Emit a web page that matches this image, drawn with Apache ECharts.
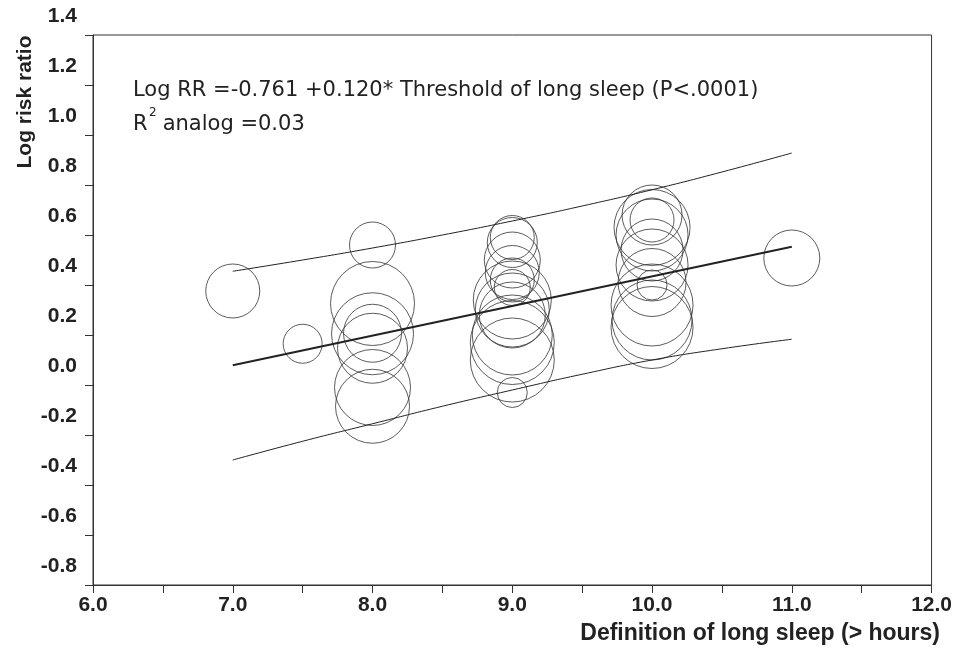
<!DOCTYPE html>
<html>
<head>
<meta charset="utf-8">
<script src="https://cdn.jsdelivr.net/npm/echarts@6/dist/echarts.min.js"></script>
<style>
  html, body { margin: 0; padding: 0; background: #fff; }
  .chart { width: 955px; height: 648px; }
</style>
</head>
<body>
<div class="chart"></div>
<script>
// 各研究：长睡眠阈值（小时）、Log RR、气泡大小（相对权重）
var studyHours = [7.0, 7.5,
  8.0, 8.0, 8.0, 8.0, 8.0, 8.0, 8.0,
  9.0, 9.0, 9.0, 9.0, 9.0, 9.0, 9.0, 9.0, 9.0, 9.0, 9.0, 9.0, 9.0,
  10.0, 10.0, 10.0, 10.0, 10.0, 10.0, 10.0, 10.0, 10.0, 10.0, 10.0,
  11.0];
var studyLogRR = [0.376, 0.165,
  0.56, 0.326, 0.205, 0.207, 0.147, -0.01, -0.085,
  0.59, 0.57, 0.50, 0.45, 0.42, 0.39, 0.34, 0.30, 0.28, 0.20, 0.17, 0.10, -0.03,
  0.68, 0.66, 0.63, 0.60, 0.54, 0.48, 0.41, 0.40, 0.32, 0.26, 0.23,
  0.508];
var studyWeight = [27, 19.5,
  23, 42, 41, 29, 35, 38, 37,
  22, 25, 28, 27, 22, 18, 39, 37, 33, 40, 42, 42, 15,
  30, 22, 38, 36, 31, 36, 34, 15, 41, 40, 41,
  28];

// 回归线和上下置信带
var fitHours = [7.0, 11.0];
var fitLogRR = [0.079, 0.553];
var bandHours = [7.0, 7.5, 8.0, 8.5, 9.0, 9.5, 10.0, 10.5, 11.0];
var upperBand = [0.455, 0.50, 0.548, 0.60, 0.656, 0.716, 0.781, 0.852, 0.928];
var lowerBand = [-0.30, -0.225, -0.155, -0.085, -0.02, 0.043, 0.10, 0.145, 0.183];

// 坐标轴刻度
var xTicks = { min: 6, max: 12, step: 0.5 };
var yTicks = { min: -0.8, max: 1.4, step: 0.2 };

;(function() {
  var myChart = echarts.init(document.querySelector(".chart"));

  function zip(a, b) {
    return a.map(function(v, i) { return [v, b[i]]; });
  }

  var bubbles = studyHours.map(function(h, i) {
    return [h, studyLogRR[i], studyWeight[i]];
  });

  var axisColor = "#333";
  var labelFont = { fontFamily: "Liberation Sans, Arial", fontWeight: "bold", fontSize: 21, color: "#222" };
  var noteFont = "21px DejaVu Sans, Verdana";

  var option = {
    animation: false,
    grid: {
      left: 93,
      right: 20,
      top: 35,
      bottom: 63,
      show: true,
      borderColor: axisColor,
      borderWidth: 1
    },
    xAxis: {
      type: "value",
      min: xTicks.min,
      max: xTicks.max,
      interval: xTicks.step,
      axisLine: { onZero: false, lineStyle: { color: axisColor } },
      axisTick: { length: 8, lineStyle: { color: axisColor } },
      splitLine: { show: false },
      axisLabel: Object.assign({
        margin: 10,
        formatter: function(v) {
          // 只在整数位置显示标签
          return Math.abs(v - Math.round(v)) < 1e-6 ? v.toFixed(1) : "";
        }
      }, labelFont)
    },
    yAxis: {
      type: "value",
      min: yTicks.min,
      max: yTicks.max,
      interval: yTicks.step,
      axisLine: { onZero: false, lineStyle: { color: axisColor } },
      axisTick: { length: 8, lineStyle: { color: axisColor } },
      splitLine: { show: false },
      axisLabel: Object.assign({
        margin: 16,
        verticalAlign: "bottom",
        padding: [0, 0, 8, 0],
        formatter: function(v) { return v.toFixed(1); }
      }, labelFont)
    },
    series: [
      {
        type: "scatter",
        data: bubbles,
        symbol: "circle",
        symbolSize: function(d) { return d[2] * 2; },
        itemStyle: { color: "rgba(0,0,0,0)", borderColor: "#333", borderWidth: 1 },
        z: 2
      },
      {
        type: "line",
        data: zip(fitHours, fitLogRR),
        symbol: "none",
        lineStyle: { color: "#222", width: 2 },
        z: 3
      },
      {
        type: "line",
        data: zip(bandHours, upperBand),
        symbol: "none",
        smooth: true,
        lineStyle: { color: "#222", width: 1 },
        z: 3
      },
      {
        type: "line",
        data: zip(bandHours, lowerBand),
        symbol: "none",
        smooth: true,
        lineStyle: { color: "#222", width: 1 },
        z: 3
      }
    ],
    graphic: [
      {
        type: "text",
        x: 25,
        y: 102,
        rotation: Math.PI / 2,
        style: {
          text: "Log risk ratio",
          font: "bold 21px Liberation Sans, Arial",
          fill: "#222",
          align: "center",
          verticalAlign: "middle"
        }
      },
      {
        type: "text",
        x: 940,
        y: 634,
        style: {
          text: "Definition of long sleep (> hours)",
          font: "bold 23px Liberation Sans, Arial",
          fill: "#222",
          align: "right",
          verticalAlign: "middle"
        }
      },
      {
        type: "text",
        x: 133,
        y: 91,
        style: {
          text: "Log RR =-0.761 +0.120* Threshold of long sleep (P<.0001)",
          font: noteFont,
          fill: "#222",
          verticalAlign: "middle"
        }
      },
      {
        type: "text",
        x: 133,
        y: 125,
        style: { text: "R", font: noteFont, fill: "#222", verticalAlign: "middle" }
      },
      {
        type: "text",
        x: 149,
        y: 113,
        style: { text: "2", font: "12px DejaVu Sans, Verdana", fill: "#222", verticalAlign: "middle" }
      },
      {
        type: "text",
        x: 156,
        y: 125,
        style: { text: " analog =0.03", font: noteFont, fill: "#222", verticalAlign: "middle" }
      }
    ]
  };

  myChart.setOption(option);
  window.addEventListener("resize", function() {
    myChart.resize();
  });
})();
</script>
</body>
</html>
